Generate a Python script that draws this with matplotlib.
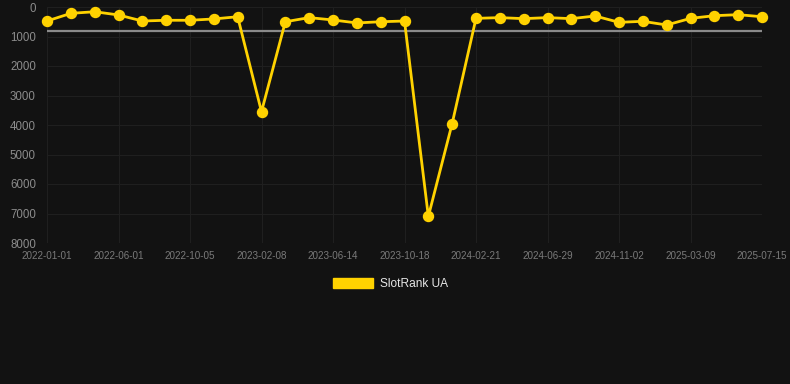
import matplotlib
matplotlib.use("Agg")
import matplotlib.pyplot as plt
from matplotlib.patches import Patch

plt.rcParams['font.family'] = ['Liberation Sans', 'DejaVu Sans']

tick_labels = ["2022-01-01", "2022-06-01", "2022-10-05", "2023-02-08", "2023-06-14",
               "2023-10-18", "2024-02-21", "2024-06-29", "2024-11-02", "2025-03-09",
               "2025-07-15"]
rank_values = [475, 215, 160, 270, 475, 450, 450, 405, 330, 3550,
               500, 360, 440, 540, 500, 475, 7100, 3950, 385, 360,
               395, 360, 395, 305, 520, 485, 610, 385, 295, 260, 330]
avg_value = 815
series_name = "SlotRank UA"

bg = "#121212"
fig = plt.figure(figsize=(7.9, 3.84), dpi=100, facecolor=bg)
ax = fig.add_axes([47/790, 1-243/384, (762-47)/790, (243-7)/384], facecolor=bg)

x = list(range(len(rank_values)))
ax.plot([x[0], x[-1]], [avg_value, avg_value], color="#8a8a8a", lw=1.6, zorder=2)
ax.plot(x, rank_values, color="#FFD200", lw=2.0, marker="o", markersize=7.2,
        zorder=3, clip_on=False)

ax.set_xlim(0, len(rank_values) - 1)
ax.set_ylim(8000, 0)
ax.set_yticks(range(0, 8001, 1000))
tick_pos = list(range(0, len(rank_values), 3))
ax.set_xticks(tick_pos)
ax.set_xticklabels(tick_labels)

ax.grid(True, color="#1f1f1f", lw=0.8)
for s in ax.spines.values():
    s.set_visible(False)
ax.tick_params(axis="y", length=0, pad=8, labelsize=8.3, labelcolor="#8c8c8c")
ax.tick_params(axis="x", length=0, pad=6, labelsize=7.1, labelcolor="#7a7a7a")

handle = Patch(facecolor="#FFD200", edgecolor="#FFD200")
fig.legend([handle], [series_name], loc="center", bbox_to_anchor=(0.494, 1-284/384),
           frameon=False, fontsize=8.6, labelcolor="#e6e6e6",
           handlelength=3.4, handleheight=1.0, handletextpad=0.55)

fig.savefig("out.png", dpi=100, facecolor=bg)
